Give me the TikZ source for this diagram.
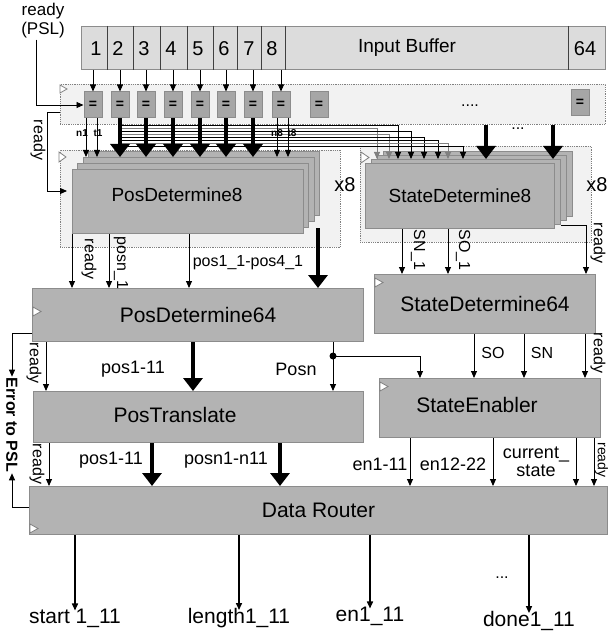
\documentclass[tikz,border=0pt]{standalone}
\usepackage{fontspec}
\setmainfont{Liberation Sans}
\usetikzlibrary{arrows.meta}
\definecolor{bufgray}{HTML}{DCDCDC}
\definecolor{panelgray}{HTML}{F2F2F2}
\definecolor{blockgray}{HTML}{B3B3B3}
\definecolor{edgegray}{HTML}{8C8C8C}
\definecolor{eqgray}{HTML}{A6A6A6}
\tikzset{
  blk/.style={draw=edgegray, fill=blockgray, line width=1pt, inner sep=0pt, anchor=north west, font=\fontsize{21}{23}\selectfont},
  panel/.style={draw=gray, fill=panelgray, densely dotted, line width=0.8pt, inner sep=0pt, anchor=north west},
  eqbox/.style={draw=edgegray, fill=eqgray, line width=1pt, minimum width=18pt, minimum height=26pt, inner sep=0pt, font=\bfseries\fontsize{14}{14}\selectfont},
  clk/.style={draw=gray, fill=white, line width=0.8pt},
  sig/.style={-{Triangle[length=7pt,width=6pt]}, line width=0.9pt},
  wide/.style={-{Triangle[length=13pt,width=19pt]}, line width=4.5pt},
  txt/.style={inner sep=0pt, font=\fontsize{21}{23}\selectfont},
  lbl/.style={inner sep=1pt, font=\fontsize{18}{20}\selectfont},
  vlbl/.style={inner sep=1pt, rotate=-90, font=\fontsize{16}{17}\selectfont},
  tag/.style={inner sep=0pt, font=\bfseries\fontsize{10}{10}\selectfont},
  dots/.style={inner sep=0pt, font=\fontsize{16}{16}\selectfont},
}
\begin{document}
\begin{tikzpicture}[x=1pt,y=-1pt]
\useasboundingbox (0,0) rectangle (608,639);

\node[blk, fill=bufgray, minimum width=524pt, minimum height=43pt] (buf) at (81,26) {};
\foreach \x in {107,133,160,187,213,237,261,285,568}
  \draw[black!75, line width=0.8pt] (buf.north -| \x,0) -- (buf.south -| \x,0);
\foreach \x/\n in {96/1,118/2,144/3,171/4,198/5,224/6,249/7,272/8,585/64}
  \node[txt, font=\fontsize{20}{22}\selectfont] (cell\n) at (\x,49) {\n};
\node[txt, font=\fontsize{19}{21}\selectfont] (buflbl) at (407,48) {Input Buffer};

\node[panel, minimum width=545pt, minimum height=40pt] (cmp) at (60,84) {};
\draw[clk] (60,85) -- ++(7,4) -- ++(-7,4) -- cycle;
\foreach \x [count=\i] in {93,120,146,173,200,226,253,281,319}
  \node[eqbox] (eq\i) at (\x,105) {=};
\node[eqbox] (eq64) at (580,103) {=};
\node[dots] (cmpdots) at (470,106) {....};
\foreach \i in {1,...,8}
  \draw[sig] (buf.south -| eq\i.north) -- (eq\i.north);

\node[lbl, align=center, font=\fontsize{17}{19}\selectfont] (psl) at (43,21) {ready\\(PSL)};
\draw[sig] (psl.south -| 36,0) |- (eq1.west);

\node[panel, minimum width=280pt, minimum height=97pt] (pd8box) at (60,150) {};
\draw[clk] (59,152) -- ++(7,5) -- ++(-7,5) -- cycle;
\foreach \k in {3,2,1}
  \node[blk, minimum width=231pt, minimum height=64pt] (pd8l\k) at ({72+5.3*\k},{169-6*\k}) {};
\node[blk, minimum width=231pt, minimum height=64pt] (pd8) at (72,169) {};
\node[txt, font=\fontsize{19}{21}\selectfont] (pd8lbl) at (177,195) {PosDetermine8};
\node[txt, font=\fontsize{20}{22}\selectfont] (pd8x) at (345,185) {x8};

\node[panel, minimum width=231pt, minimum height=96pt] (sd8box) at (360,146) {};
\draw[clk] (361,152) -- ++(8,5.5) -- ++(-8,5.5) -- cycle;
\foreach \k in {3,2,1}
  \node[blk, minimum width=189pt, minimum height=65pt] (sd8l\k) at ({365+6*\k},{163-4*\k}) {};
\node[blk, minimum width=189pt, minimum height=65pt, font=\fontsize{19}{21}\selectfont] (sd8) at (365,163) {StateDetermine8};
\node[txt, font=\fontsize{20}{22}\selectfont] (sd8x) at (597,185) {x8};

\foreach \y/\x/\c in {125/398/black,128/377/gray,131/411/black,134/389/gray,137/424/black,140/438/black,143/448/gray,146/463/black}
  \draw[sig, draw=\c] (eq2.south |- 0,\y) -| (sd8l1.north -| \x,0);
\foreach \x in {86,97}
  \draw[sig] (eq1.south -| \x,0) -- (pd8l2.north -| \x,0);
\foreach \x in {277,288}
  \draw[sig] (eq8.south -| \x,0) -- (pd8l2.north -| \x,0);
\foreach \i in {2,...,7}
  \draw[wide] (eq\i.south) -- (pd8l2.north -| eq\i.south);
\foreach \x in {486,553}
  \draw[wide] (cmp.south -| \x,0) -- (sd8l1.north -| \x,0);
\node[dots] (busdots) at (518,129) {...};
\node[tag] (n1) at (82,133) {n1};
\node[tag] (t1) at (98,133) {t1};
\node[tag] (n8) at (277,133) {n8};
\node[tag] (t8) at (292,133) {t8};

\coordinate (rdybend) at (47,112);
\draw[sig, shorten >=5pt] (cmp.west |- rdybend) -- (rdybend) |- (pd8.west |- 0,191);
\node[vlbl] (rdy0) at (38,140) {ready};

\node[blk, minimum width=331pt, minimum height=53pt] (pd64) at (32,288) {PosDetermine64};
\draw[clk] (33,307) -- ++(8,4.5) -- ++(-8,4.5) -- cycle;
\draw[sig] (pd8.south -| 72,0) -- (pd64.north -| 72,0);
\node[vlbl] (rdy1) at (89,259) {ready};
\draw[sig] (pd8.south -| 109,0) -- (pd64.north -| 109,0);
\node[vlbl] (posn1) at (121,263) {posn\_1};
\draw[sig] (pd8.south -| 189,0) -- (pd64.north -| 189,0);
\node[lbl, font=\fontsize{16}{18}\selectfont] (pos14) at (248,263) {pos1\_1-pos4\_1};
\draw[wide] (pd8l1.south -| 318,0) -- (pd64.north -| 318,0);

\node[blk, minimum width=221pt, minimum height=59pt] (sd64) at (374,274) {StateDetermine64};
\draw[clk] (375,278) -- ++(8,4.5) -- ++(-8,4.5) -- cycle;
\draw[sig] (sd8.south -| 402,0) -- (sd64.north -| 402,0);
\node[vlbl] (sn1) at (418,250) {SN\_1};
\draw[sig] (sd8.south -| 448,0) -- (sd64.north -| 448,0);
\node[vlbl] (so1) at (463,250) {SO\_1};
\draw[sig] (sd8l1.south east) -| (sd64.north -| 586,0);
\node[vlbl] (rdy2) at (598,243) {ready};

\node[vlbl, font=\bfseries\fontsize{16}{17}\selectfont] (err) at (12,425) {Error to PSL};
\draw[sig] (pd64.west |- 0,333) -| (err.west);

\node[blk, minimum width=330pt, minimum height=51pt] (pt) at (33,391) {};
\node[txt] (ptlbl) at (175,415) {PosTranslate};
\draw[sig] (pd64.south -| 46,0) -- (pt.north -| 46,0);
\node[vlbl] (rdy3) at (34,363) {ready};
\draw[wide] (pd64.south -| 193,0) -- (pt.north -| 193,0);
\node[lbl] (pos11a) at (133,369) {pos1-11};
\coordinate (posnsplit) at (333,356);
\draw[sig] (pd64.south -| posnsplit) -- (pt.north -| posnsplit);
\fill (posnsplit) circle (3.5pt);
\node[lbl] (posn) at (296,369) {Posn};

\node[blk, minimum width=221pt, minimum height=59pt] (se) at (379,378) {};
\node[txt] (selbl) at (477,405) {StateEnabler};
\draw[clk] (380,382) -- ++(8,4.5) -- ++(-8,4.5) -- cycle;
\draw[sig] (posnsplit) -| (se.north -| 420,0);
\foreach \x in {474,524,585}
  \draw[sig] (sd64.south -| \x,0) -- (se.north -| \x,0);
\node[lbl, font=\fontsize{16}{18}\selectfont] (so) at (493,353) {SO};
\node[lbl, font=\fontsize{16}{18}\selectfont] (sn) at (542,353) {SN};
\node[vlbl] (rdy4) at (598,353) {ready};

\node[blk, minimum width=578pt, minimum height=48pt] (dr) at (29,486) {Data Router};
\draw[clk] (30,524) -- ++(8,4.5) -- ++(-8,4.5) -- cycle;
\draw[sig] (dr.west |- 0,507) -| (err.east);
\draw[sig] (pt.south -| 49,0) -- (dr.north -| 49,0);
\node[vlbl] (rdy5) at (37,464) {ready};
\draw[wide] (pt.south -| 152,0) -- (dr.north -| 152,0);
\node[lbl] (pos11b) at (111,460) {pos1-11};
\draw[wide] (pt.south -| 280,0) -- (dr.north -| 280,0);
\node[lbl] (posnn) at (226,460) {posn1-n11};
\foreach \x in {410,493,576,594}
  \draw[sig] (se.south -| \x,0) -- (dr.north -| \x,0);
\node[lbl] (en111) at (380,464) {en1-11};
\node[lbl] (en1222) at (453,464) {en12-22};
\node[lbl, align=center, font=\fontsize{18}{18}\selectfont] (cur) at (536,462) {current\_\\state};
\node[vlbl, inner sep=0pt, font=\fontsize{14}{15}\selectfont] (rdy6) at (601.5,460) {ready};

\node[txt] (ostart) at (75,618) {start 1\_11};
\node[txt] (olength) at (239,618) {length1\_11};
\node[txt] (oen) at (370,616) {en1\_11};
\node[txt] (odone) at (529,621) {done1\_11};
\foreach \o in {ostart,olength,oen,odone}
  \draw[sig, line width=1.5pt] (dr.south -| \o.north) -- ([yshift=-2pt]\o.north);
\node[dots] (outdots) at (502,578) {...};
\end{tikzpicture}
\end{document}
